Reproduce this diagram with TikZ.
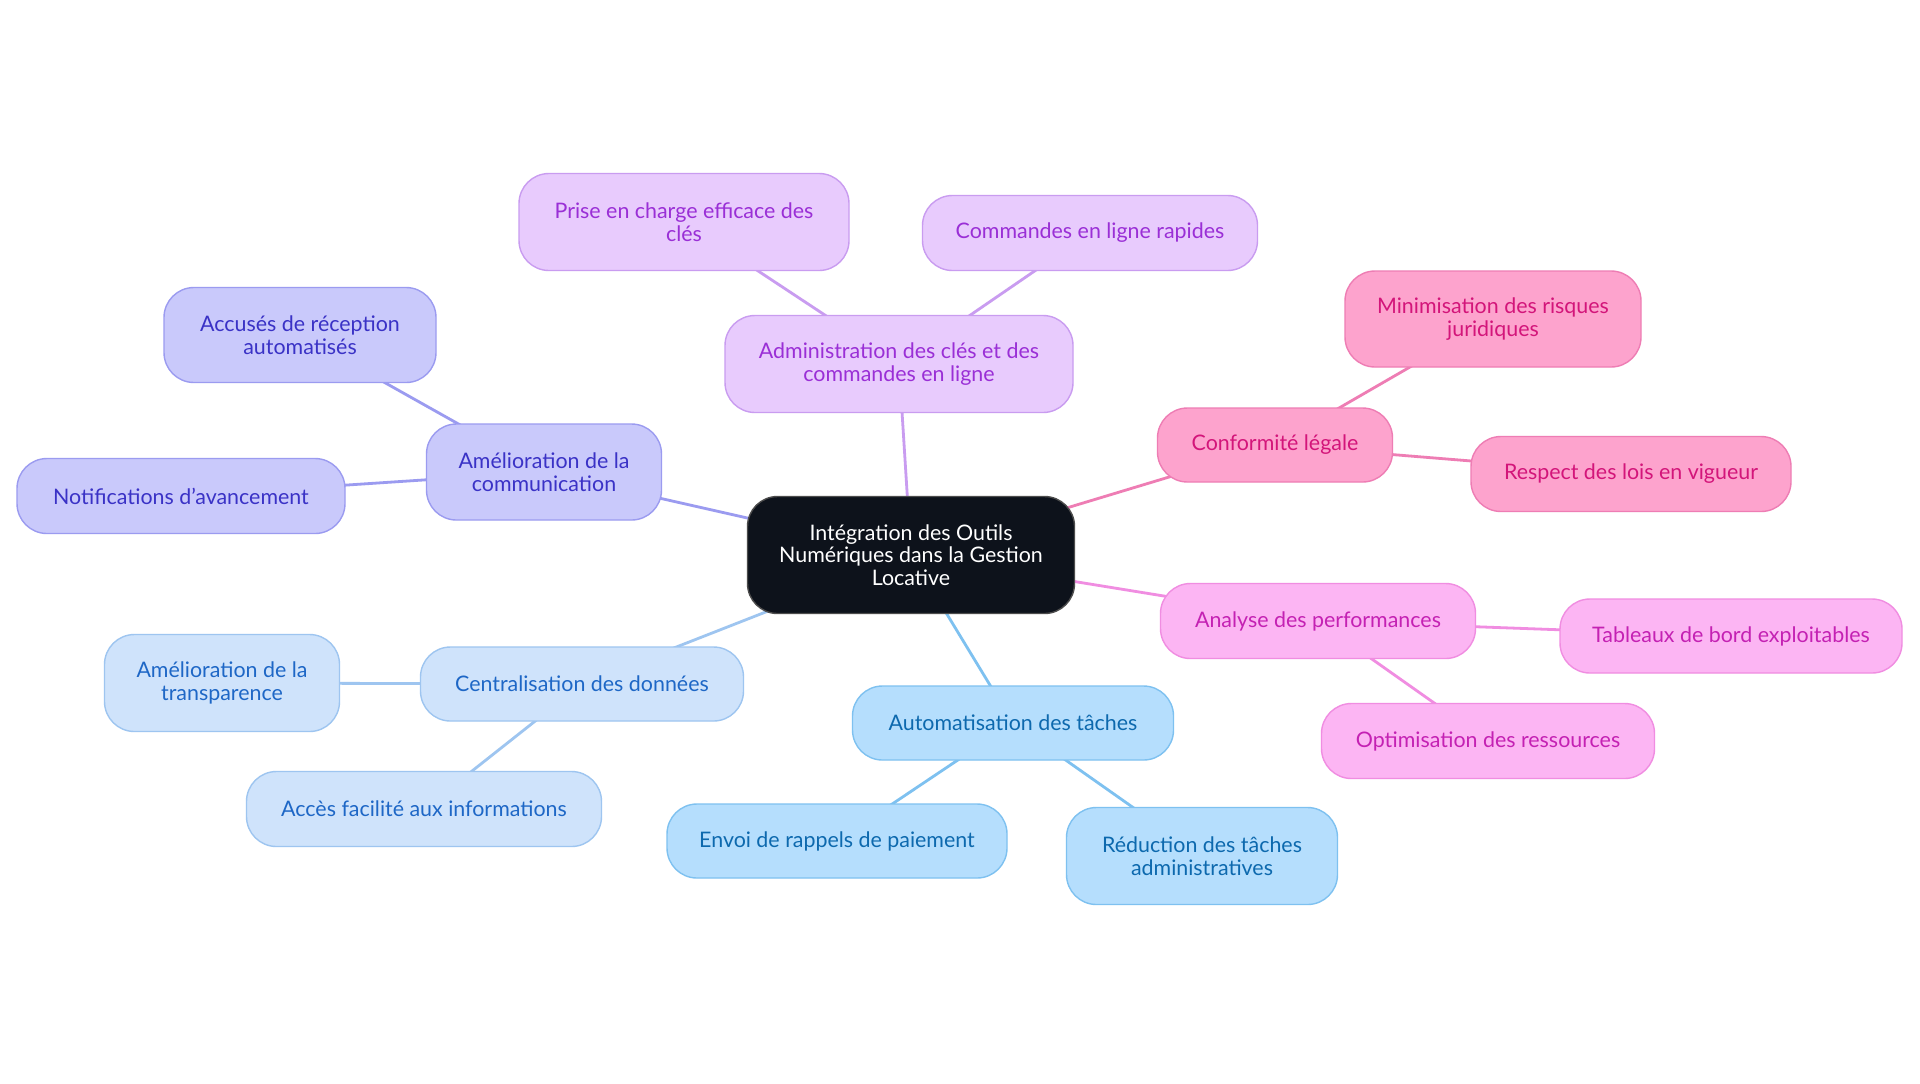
\documentclass[tikz,border=0pt]{standalone}
\usepackage{fontspec}
\setmainfont{Lato}
\usetikzlibrary{backgrounds}
\definecolor{ctrfill}{HTML}{0D121B}
\definecolor{purF}{HTML}{E8CBFD}\definecolor{purD}{HTML}{C99CF0}\definecolor{purT}{HTML}{9A2FD6}
\definecolor{vioF}{HTML}{C9C9FB}\definecolor{vioD}{HTML}{9B9BF0}\definecolor{vioT}{HTML}{3A32C6}
\definecolor{lbF}{HTML}{CFE3FB}\definecolor{lbD}{HTML}{9EC5F0}\definecolor{lbT}{HTML}{1E67C6}
\definecolor{skF}{HTML}{B5DEFD}\definecolor{skD}{HTML}{7EC1F0}\definecolor{skT}{HTML}{0D69AE}
\definecolor{pkF}{HTML}{FDA3CD}\definecolor{pkD}{HTML}{EE7DB4}\definecolor{pkT}{HTML}{D3157A}
\definecolor{mgF}{HTML}{FCB5F3}\definecolor{mgD}{HTML}{F08DE1}\definecolor{mgT}{HTML}{C421B3}
\tikzset{
  box/.style={rounded corners=15pt, draw, line width=0.7pt, align=center, inner sep=0pt,
    font=\fontsize{10.7pt}{11.2pt}\selectfont},
  sz/.style 2 args={minimum width=#1*0.5pt, minimum height=#2*0.5pt},
  pur/.style={box, fill=purF, draw=purD, text=purT},
  vio/.style={box, fill=vioF, draw=vioD, text=vioT},
  lb/.style={box, fill=lbF, draw=lbD, text=lbT},
  sk/.style={box, fill=skF, draw=skD, text=skT},
  pk/.style={box, fill=pkF, draw=pkD, text=pkT},
  mg/.style={box, fill=mgF, draw=mgD, text=mgT},
  ctr/.style={box, fill=ctrfill, draw=gray!60!black, text=white},
  edge/.style={line width=1.4pt},
}
\begin{document}
\begin{tikzpicture}[x=0.5pt,y=-0.5pt]
\useasboundingbox (0,0) rectangle (1920,1083);
\node[ctr, sz={327}{117}] (c) at (911,555) {Intégration des Outils\\Numériques dans la Gestion\\Locative};
% purple
\node[pur, sz={348}{97}] (adm) at (899,364) {Administration des clés et des\\commandes en ligne};
\node[pur, sz={330}{97}] (pri) at (684,222) {Prise en charge efficace des\\clés};
\node[pur, sz={335}{75}] (cmd) at (1090,233) {Commandes en ligne rapides};
% violet
\node[vio, sz={235}{96}] (com) at (544,472) {Amélioration de la\\communication};
\node[vio, sz={272}{95}] (acc) at (300,335) {Accusés de réception\\automatisés};
\node[vio, sz={328}{75}] (not) at (181,496) {Notifications d'avancement};
% pink
\node[pk, sz={235}{74}] (con) at (1275,445) {Conformité légale};
\node[pk, sz={296}{96}] (min) at (1493,319) {Minimisation des risques\\juridiques};
\node[pk, sz={320}{75}] (res) at (1631,474) {Respect des lois en vigueur};
% magenta
\node[mg, sz={315}{75}] (ana) at (1318,621) {Analyse des performances};
\node[mg, sz={342}{74}] (tab) at (1731,636) {Tableaux de bord exploitables};
\node[mg, sz={333}{75}] (opt) at (1488,741) {Optimisation des ressources};
% sky
\node[sk, sz={321}{74}] (aut) at (1013,723) {Automatisation des tâches};
\node[sk, sz={340}{74}] (env) at (837,841) {Envoi de rappels de paiement};
\node[sk, sz={271}{97}] (red) at (1202,856) {Réduction des tâches\\administratives};
% light blue
\node[lb, sz={323}{74}] (cen) at (582,684) {Centralisation des données};
\node[lb, sz={235}{97}] (tra) at (222,683) {Amélioration de la\\transparence};
\node[lb, sz={355}{75}] (acf) at (424,809) {Accès facilité aux informations};
\begin{pgfonlayer}{background}
\fill[white] (0,0) rectangle (1920,1083);
\draw[edge, purD] (c.center) -- (adm.center);
\draw[edge, purD] (adm.center) -- (pri.center);
\draw[edge, purD] (adm.center) -- (cmd.center);
\draw[edge, vioD] (c.center) -- (com.center);
\draw[edge, vioD] (com.center) -- (acc.center);
\draw[edge, vioD] (com.center) -- (not.center);
\draw[edge, pkD] (c.center) -- (con.center);
\draw[edge, pkD] (con.center) -- (min.center);
\draw[edge, pkD] (con.center) -- (res.center);
\draw[edge, mgD] (c.center) -- (ana.center);
\draw[edge, mgD] (ana.center) -- (tab.center);
\draw[edge, mgD] (ana.center) -- (opt.center);
\draw[edge, skD] (c.center) -- (aut.center);
\draw[edge, skD] (aut.center) -- (env.center);
\draw[edge, skD] (aut.center) -- (red.center);
\draw[edge, lbD] (c.center) -- (cen.center);
\draw[edge, lbD] (cen.center) -- (tra.center);
\draw[edge, lbD] (cen.center) -- (acf.center);
\end{pgfonlayer}
\end{tikzpicture}
\end{document}
